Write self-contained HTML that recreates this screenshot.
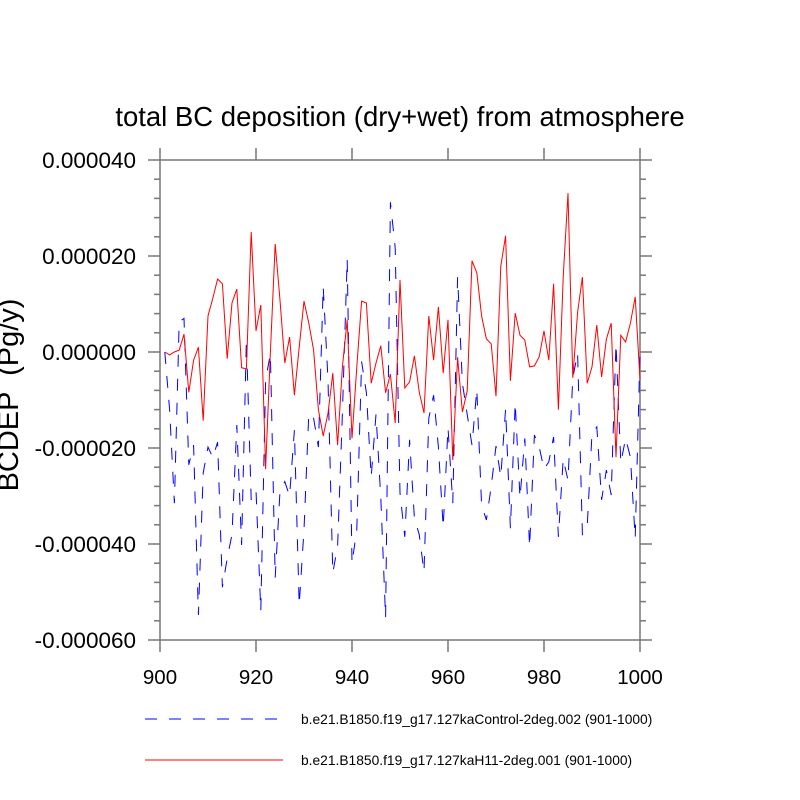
<!DOCTYPE html>
<html><head><meta charset="utf-8"><style>body{margin:0;background:#fff}svg{display:block}text{font-family:"Liberation Sans",sans-serif}</style></head>
<body>
<svg id="chart" width="800" height="800" xmlns="http://www.w3.org/2000/svg">
<text x="400" y="126" text-anchor="middle" font-size="27.5">total BC deposition (dry+wet) from atmosphere</text>
<text transform="translate(18,395) rotate(-90)" text-anchor="middle" font-size="29" xml:space="preserve">BCDEP  (Pg/y)</text>
<g id="axes"></g>
<g id="series"></g>
<g>
<line x1="145" y1="719" x2="278" y2="719" stroke="#0000ff" stroke-width="1" stroke-dasharray="12,12"/>
<text x="301" y="724" font-size="13.8">b.e21.B1850.f19_g17.127kaControl-2deg.002 (901-1000)</text>
<line x1="145" y1="760" x2="283" y2="760" stroke="#ff0000" stroke-width="1"/>
<text x="301" y="765" font-size="13.8">b.e21.B1850.f19_g17.127kaH11-2deg.001 (901-1000)</text>
</g>
</svg>
<script>
const startYear = 901;
const controlValues = [0,-12,-31.5,6.3,7,-23.5,-19.4,-54.8,-25.2,-19.8,-22,-18.8,-49,-43,-38,-15.2,-40.2,2.7,-30.8,-28.8,-54,-5.8,-0.4,-47,-29,-27,-30,-16.3,-52.7,-37,-12.8,-13.8,-19.8,13.6,-5.8,-46,-40.5,-12.8,19.4,-44,-37,-2,-8.5,-26,-13,-30.4,-55.4,31.2,21.7,-29.4,-38.5,-18.3,-34.6,-38,-45.8,-13.8,-9,-19.8,-36.5,-15.8,-31.5,15.6,-6.5,-13,-19.4,-7.8,-31.9,-35,-28,-19.6,-26,-11.9,-36.7,-10.6,-30.4,-18,-40.6,-17.3,-19.8,-24.4,-22.9,-17.7,-38.5,-22.3,-26.7,-5.4,-0.2,-38,-36.5,-16.9,-15.6,-30.8,-24.6,-29.8,1.7,-23.1,-18,-21.9,-38.8,0];
const h11Values = [0,-0.6,0,0.4,3.7,-8.4,-1.7,1,-14.3,7.5,11.2,15.2,14.2,-1.4,10.2,13.1,-3.3,-3.5,25,4.4,9.8,-24.4,0,22.5,10.8,-2.3,3.1,-9,1,10.6,6,0.4,-12,-17.5,-12.8,-4.4,-19.4,-3.1,6.7,-18,-3.1,10.6,10.2,-6.5,-2.3,1.3,-8.5,-4.6,-14.8,15,-7.5,-6.2,-0.8,-8.3,-12.7,7.5,-1.7,9.4,-4.4,6.7,-22.5,-1.1,-12.5,-8.1,19,16.5,7.5,2.7,1.7,-9.2,17.9,24.2,-6,8.1,3.5,2.5,-3.1,-2.9,-1,4.4,-1.7,14.2,-12,15.6,33.1,-5.4,8.3,15.6,-6.5,-3.1,5.6,-5.2,2.7,6,-21.9,3.5,2.1,6,11.5,-5.8];
const yTickValues = [40,20,0,-20,-40,-60];
const yTickLabels = ["0.000040","0.000020","0.000000","-0.000020","-0.000040","-0.000060"];
const xTickValues = [900,920,940,960,980,1000];

const NS="http://www.w3.org/2000/svg";
const L=160,R=640,T=160,B=640;
const xs=yr=>L+(yr-900)/100*(R-L);
const ys=v=>T+(40-v)/100*(B-T);
const axes=document.getElementById('axes'), ser=document.getElementById('series');
function mk(tag,attrs,parent){const e=document.createElementNS(NS,tag);for(const k in attrs)e.setAttribute(k,attrs[k]);parent.appendChild(e);return e;}
const ax="#777";
const frame=mk('rect',{x:L,y:T,width:R-L,height:B-T,fill:'none',stroke:ax,'stroke-width':1.5},axes);


for(let v=-60;v<=40;v+=4){
  const major=yTickValues.includes(v);const len=major?12:6;
  const t1=mk('line',{x1:L-len,x2:L,y1:ys(v),y2:ys(v),stroke:ax,'stroke-width':1.5},axes);
  
  
  const t2=mk('line',{x1:R,x2:R+len,y1:ys(v),y2:ys(v),stroke:ax,'stroke-width':1.5},axes);
  
  
}
yTickValues.forEach((v,i)=>{
  const t=mk('text',{x:136,y:ys(v)+8,'text-anchor':'end','font-size':22.5},axes);t.textContent=yTickLabels[i];
  
  
});
xTickValues.forEach(v=>{
  const a=mk('line',{x1:xs(v),x2:xs(v),y1:B,y2:B+12,stroke:ax,'stroke-width':1.5},axes);
  
  
  const b=mk('line',{x1:xs(v),x2:xs(v),y1:T-12,y2:T,stroke:ax,'stroke-width':1.5},axes);
  
  
  const t=mk('text',{x:xs(v),y:684,'text-anchor':'middle','font-size':20.5},axes);t.textContent=v;
  
  
});
function line(vals,color,dash,name){
  const pts=vals.map((v,i)=>xs(startYear+i).toFixed(1)+','+ys(v).toFixed(1)).join(' ');
  const p=mk('polyline',{points:pts,fill:'none',stroke:color,'stroke-width':1},ser);
  if(dash)p.setAttribute('stroke-dasharray',dash);
  
  
}
line(controlValues,'#0000ff','12,12','control-series-line');
line(h11Values,'#ff0000',null,'h11-series-line');
</script>
</body></html>
